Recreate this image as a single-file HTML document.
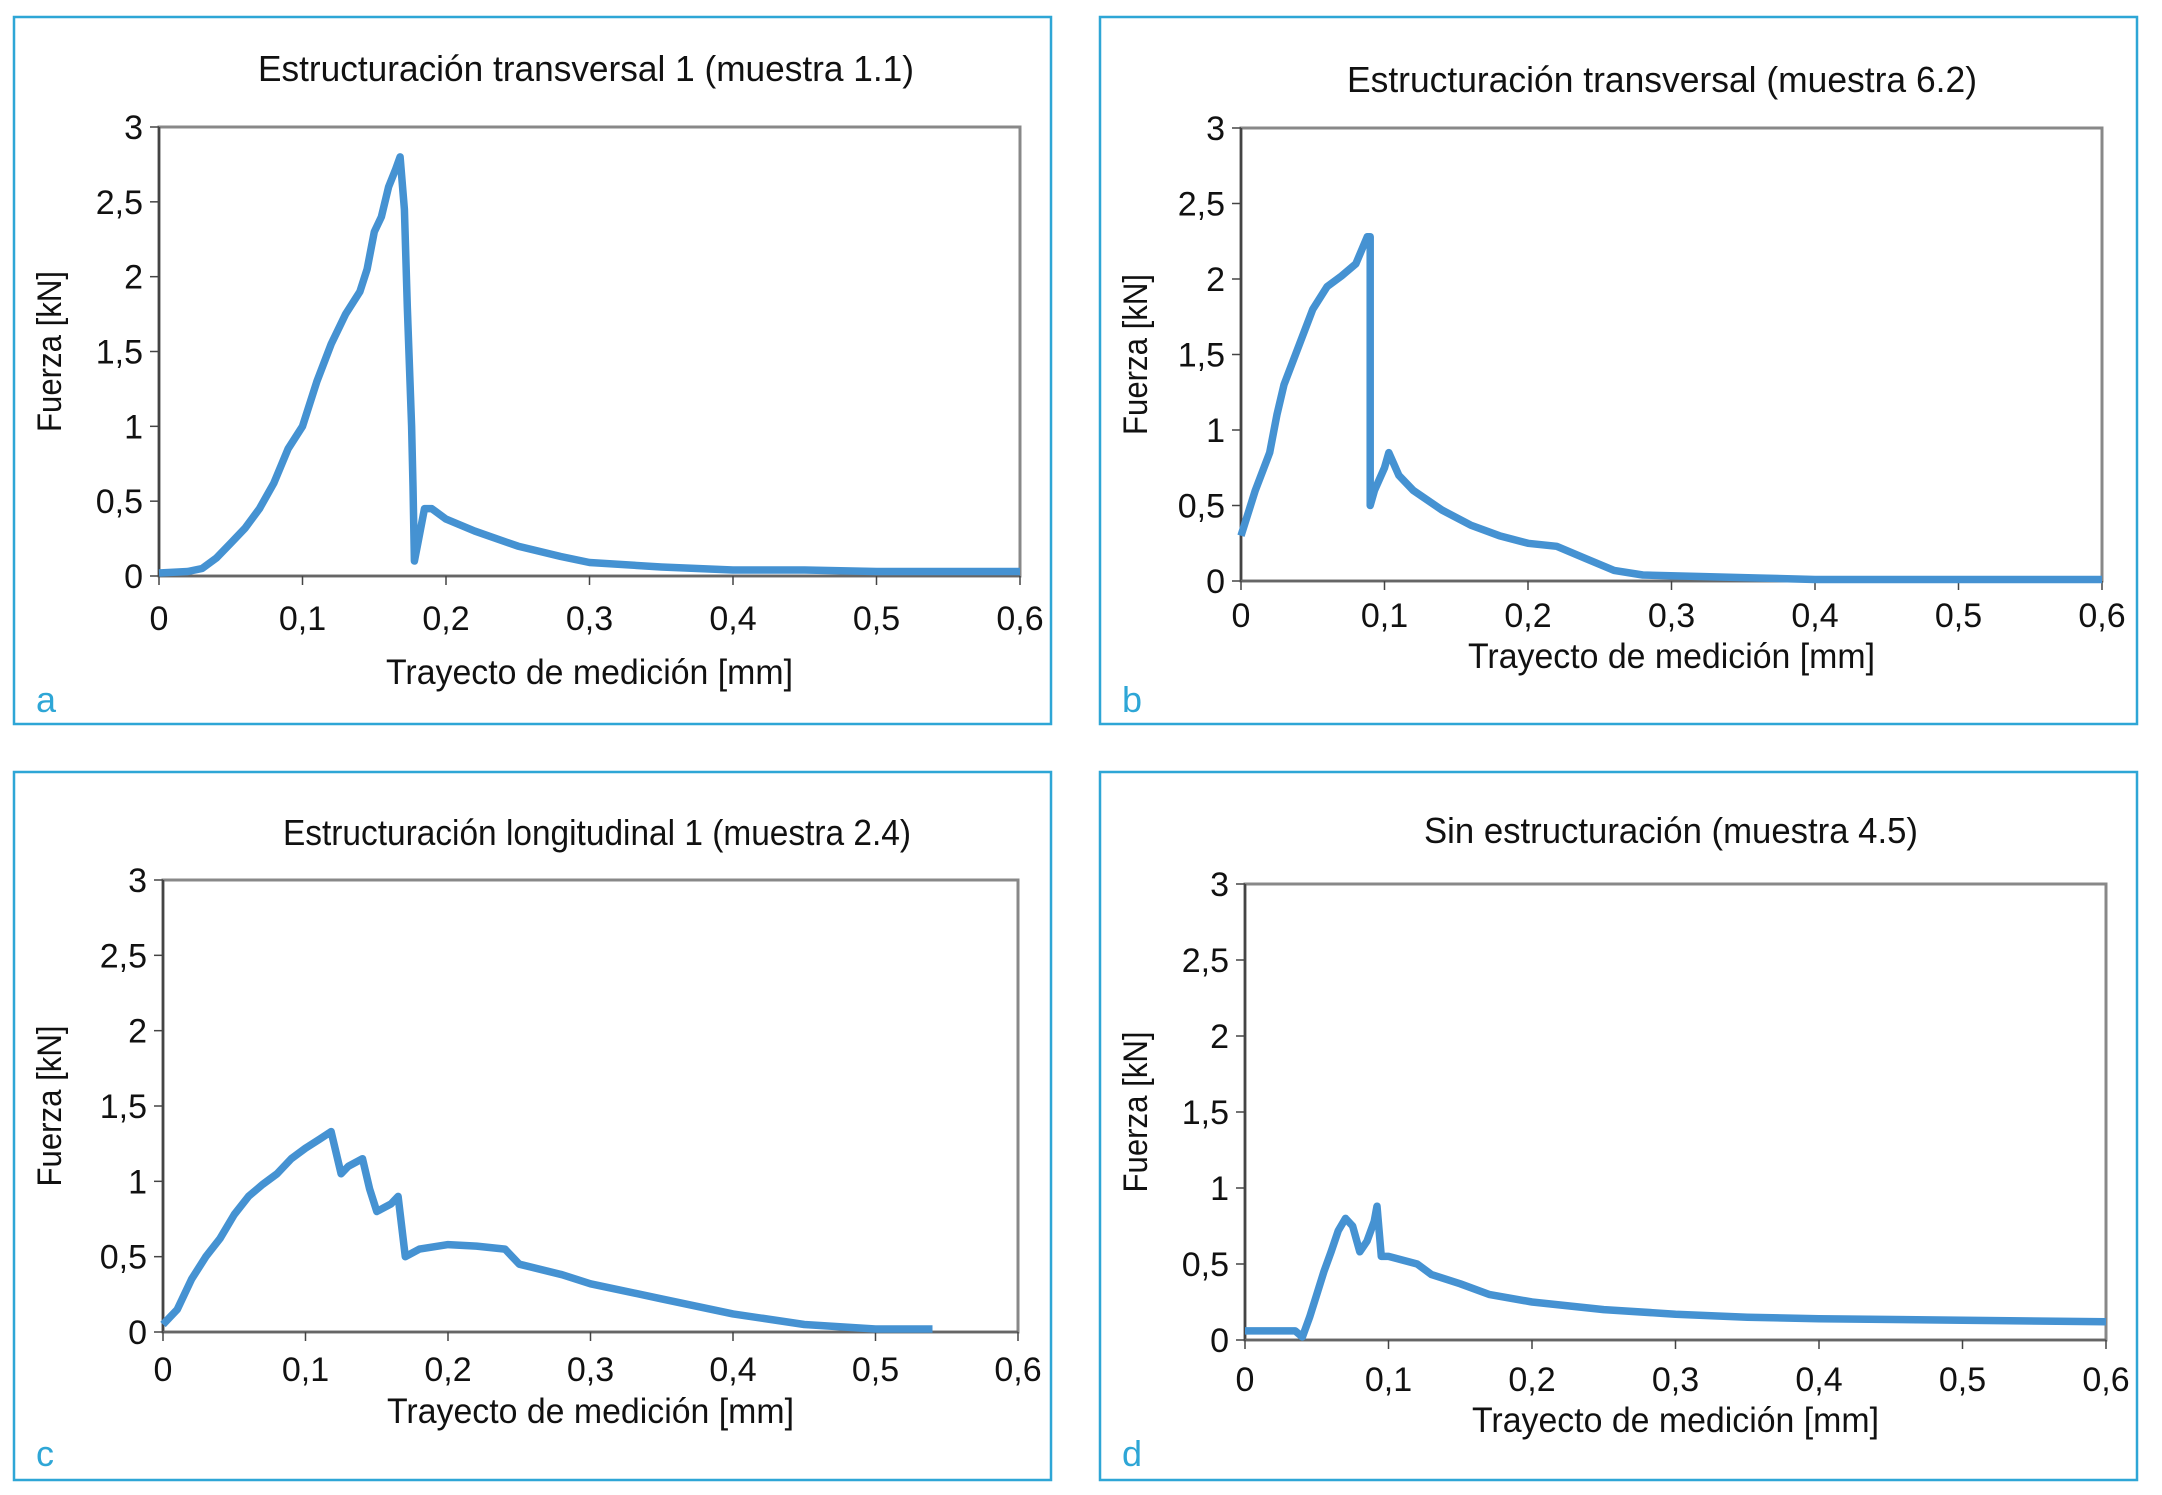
<!DOCTYPE html>
<html><head><meta charset="utf-8"><style>
html,body{margin:0;padding:0;background:#fff;}
svg{display:block;font-family:"Liberation Sans",sans-serif;}
</style></head><body>
<svg id="fig" width="2162" height="1495" viewBox="0 0 2162 1495"></svg>
<script>
const NS="http://www.w3.org/2000/svg";
const xTicks=[0,0.1,0.2,0.3,0.4,0.5,0.6];
const xTickLabels=["0","0,1","0,2","0,3","0,4","0,5","0,6"];
const yTicks=[0,0.5,1,1.5,2,2.5,3];
const yTickLabels=["0","0,5","1","1,5","2","2,5","3"];
// series data per panel
const xA=[0,0.02,0.03,0.04,0.05,0.06,0.07,0.08,0.09,0.1,0.11,0.12,0.13,0.14,0.145,0.15,0.155,0.16,0.165,0.168,0.171,0.173,0.176,0.177,0.178,0.18,0.185,0.19,0.2,0.22,0.25,0.28,0.3,0.35,0.4,0.45,0.5,0.6];
const yA=[0.02,0.03,0.05,0.12,0.22,0.32,0.45,0.62,0.85,1.0,1.3,1.55,1.75,1.9,2.05,2.3,2.4,2.6,2.72,2.8,2.45,1.8,1.0,0.6,0.1,0.2,0.45,0.45,0.38,0.3,0.2,0.13,0.09,0.06,0.04,0.04,0.03,0.03];
const xB=[0,0.005,0.01,0.02,0.025,0.03,0.04,0.05,0.06,0.07,0.08,0.088,0.09,0.09,0.093,0.1,0.103,0.11,0.12,0.14,0.16,0.18,0.2,0.22,0.24,0.26,0.28,0.32,0.36,0.4,0.6];
const yB=[0.3,0.45,0.6,0.85,1.1,1.3,1.55,1.8,1.95,2.02,2.1,2.28,2.28,0.5,0.6,0.75,0.85,0.7,0.6,0.47,0.37,0.3,0.25,0.23,0.15,0.07,0.04,0.03,0.02,0.01,0.01];
const xC=[0,0.01,0.02,0.03,0.04,0.05,0.06,0.07,0.08,0.09,0.1,0.11,0.118,0.125,0.13,0.14,0.145,0.15,0.16,0.165,0.17,0.18,0.2,0.22,0.24,0.25,0.28,0.3,0.35,0.4,0.45,0.5,0.54];
const yC=[0.05,0.15,0.35,0.5,0.62,0.78,0.9,0.98,1.05,1.15,1.22,1.28,1.33,1.05,1.1,1.15,0.95,0.8,0.85,0.9,0.5,0.55,0.58,0.57,0.55,0.45,0.38,0.32,0.22,0.12,0.05,0.02,0.02];
const xD=[0,0.035,0.04,0.045,0.05,0.055,0.06,0.065,0.07,0.075,0.08,0.085,0.09,0.092,0.095,0.1,0.12,0.13,0.15,0.17,0.2,0.25,0.3,0.35,0.4,0.5,0.6];
const yD=[0.06,0.06,0.02,0.15,0.3,0.45,0.58,0.72,0.8,0.75,0.58,0.65,0.78,0.88,0.55,0.55,0.5,0.43,0.37,0.3,0.25,0.2,0.17,0.15,0.14,0.13,0.12];

const panels=[
 {id:"a",box:[14,17,1037,707],px:[159,1020],py:[127,576],title:"Estructuración transversal 1  (muestra 1.1)",tx:586,ty:81,tl:656,xt:630,xat:684,lab:712,x:xA,y:yA},
 {id:"b",box:[1100,17,1037,707],px:[1241,2102],py:[128,581],title:"Estructuración transversal  (muestra 6.2)",tx:1662,ty:92,tl:630,xt:627,xat:668,lab:712,x:xB,y:yB},
 {id:"c",box:[14,772,1037,708],px:[163,1018],py:[880,1332],title:"Estructuración longitudinal 1 (muestra 2.4)",tx:597,ty:845,tl:628,xt:1381,xat:1423,lab:1466,x:xC,y:yC},
 {id:"d",box:[1100,772,1037,708],px:[1245,2106],py:[884,1340],title:"Sin estructuración (muestra 4.5)",tx:1671,ty:843,tl:494,xt:1391,xat:1432,lab:1466,x:xD,y:yD}
];
const svg=document.getElementById('fig');
function mk(tag,attrs,parent){const e=document.createElementNS(NS,tag);for(const k in attrs)e.setAttribute(k,attrs[k]);(parent||svg).appendChild(e);return e;}
panels.forEach(p=>{
  const g=mk('g',{});
  
  
  const X=v=>p.px[0]+(v-0)/(0.6-0)*(p.px[1]-p.px[0]);
  const Y=v=>p.py[1]-(v-0)/(3-0)*(p.py[1]-p.py[0]);
  const b=mk('rect',{x:p.box[0],y:p.box[1],width:p.box[2],height:p.box[3],fill:'none',stroke:'#2ea6d6','stroke-width':2.5},g);
  
  
  const f=mk('rect',{x:p.px[0],y:p.py[0],width:p.px[1]-p.px[0],height:p.py[1]-p.py[0],fill:'none',stroke:'#888','stroke-width':3},g);
  
  
  mk('line',{x1:p.px[0],y1:p.py[0],x2:p.px[0],y2:p.py[1],stroke:'#444','stroke-width':2.5},g);
  mk('line',{x1:p.px[0],y1:p.py[1],x2:p.px[1],y2:p.py[1],stroke:'#666','stroke-width':2.5},g);
  xTicks.forEach((v,i)=>{
    mk('line',{x1:X(v),y1:p.py[1],x2:X(v),y2:p.py[1]+9,stroke:'#444','stroke-width':1.5},g);
    const t=mk('text',{x:X(v),y:p.xt,'text-anchor':'middle','font-size':34,fill:'#111'},g);
    t.textContent=xTickLabels[i];
    
    
  });
  yTicks.forEach((v,i)=>{
    mk('line',{x1:p.px[0]-9,y1:Y(v),x2:p.px[0],y2:Y(v),stroke:'#444','stroke-width':1.5},g);
    const t=mk('text',{x:p.px[0]-16,y:Y(v)+12,'text-anchor':'end','font-size':34,fill:'#111'},g);
    t.textContent=yTickLabels[i];
    
    
  });
  const tt=mk('text',{x:p.tx,y:p.ty,'text-anchor':'middle','font-size':36,fill:'#111',textLength:p.tl,lengthAdjust:'spacingAndGlyphs'},g);
  tt.textContent=p.title;
  
  
  const xa=mk('text',{x:(p.px[0]+p.px[1])/2,y:p.xat,'text-anchor':'middle','font-size':35,fill:'#111',textLength:407,lengthAdjust:'spacingAndGlyphs'},g);
  xa.textContent='Trayecto de medición [mm]';
  
  
  const ycx=p.box[0]+35, ycy=(p.py[0]+p.py[1])/2;
  const ya=mk('text',{x:ycx,y:ycy,'text-anchor':'middle','font-size':34,fill:'#111',textLength:161,lengthAdjust:'spacingAndGlyphs',transform:`rotate(-90 ${ycx} ${ycy}) translate(0 12)`},g);
  ya.textContent='Fuerza [kN]';
  
  
  const lb=mk('text',{x:p.box[0]+22,y:p.lab,'font-size':36,fill:'#2ea6d6'},g);
  lb.textContent=p.id;
  
  
  const d=p.x.map((v,i)=>(i?'L':'M')+X(v).toFixed(1)+' '+Y(p.y[i]).toFixed(1)).join(' ');
  const ln=mk('path',{d:d,fill:'none',stroke:'#4592d2','stroke-width':7.5,'stroke-linejoin':'round'},g);
  
  
});
</script>
</body></html>
